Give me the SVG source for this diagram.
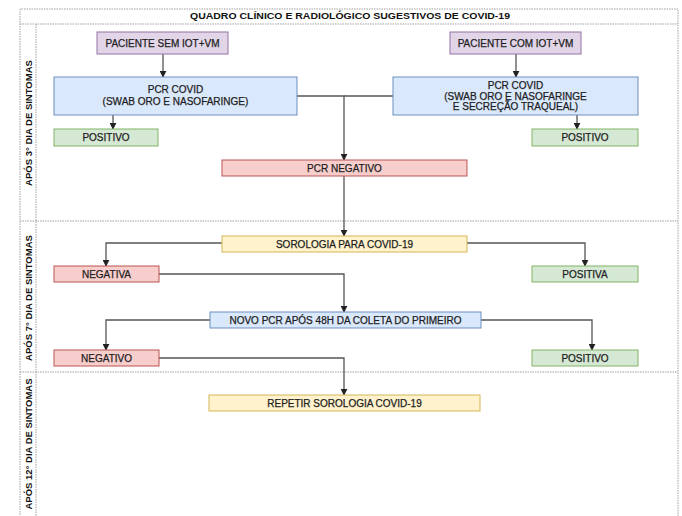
<svg xmlns="http://www.w3.org/2000/svg" width="682" height="516" viewBox="0 0 682 516">
<defs>
<marker id="ah" viewBox="0 0 10 10" refX="9" refY="5" markerWidth="7" markerHeight="7" markerUnits="userSpaceOnUse" orient="auto">
<path d="M0,0 L10,5 L0,10 z" fill="#222"/>
</marker>
<style>
.lane{fill:none;stroke:#a0a0a0;stroke-width:1;stroke-dasharray:1.5,1}
.t{font-family:"Liberation Sans",Arial,sans-serif;font-size:10px;fill:#1e1e1e;stroke:#1e1e1e;stroke-width:0.25;text-anchor:middle}
.hd{font-family:"Liberation Sans",Arial,sans-serif;font-size:9.5px;font-weight:bold;fill:#111;text-anchor:middle}
.pu{fill:#e1d5e7;stroke:#9673a6}
.bl{fill:#dae8fc;stroke:#6c8ebf}
.gr{fill:#d5e8d4;stroke:#82b366}
.rd{fill:#f8cecc;stroke:#b85450}
.ye{fill:#fff2cc;stroke:#d6b656}
.c{fill:none;stroke:#555;stroke-width:1.3;marker-end:url(#ah)}
.cn{fill:none;stroke:#555;stroke-width:1.3}
</style>
</defs>
<rect width="682" height="516" fill="#fff"/>
<g id="lanes">
<path class="lane" d="M20,530 V9 H678 V530"/>
<path class="lane" d="M20,24 H678"/>
<path class="lane" d="M36,24 V530"/>
<path class="lane" d="M20,221 H678"/>
<path class="lane" d="M20,372 H678"/>
<text class="hd" x="350" y="16" dy="0.35em" textLength="320" lengthAdjust="spacingAndGlyphs">QUADRO CLÍNICO E RADIOLÓGICO SUGESTIVOS DE COVID-19</text>
<text class="hd" transform="translate(29,123) rotate(-90)" dy="0.35em">APÓS 3° DIA DE SINTOMAS</text>
<text class="hd" transform="translate(29,298) rotate(-90)" dy="0.35em">APÓS 7° DIA DE SINTOMAS</text>
<text class="hd" transform="translate(29,444) rotate(-90)" dy="0.35em">APÓS 12° DIA DE SINTOMAS</text>
</g>
<g id="connectors">
<path class="c" d="M163,54 V77"/>
<path class="c" d="M516,54 V77"/>
<path class="c" d="M113,115 V129"/>
<path class="c" d="M577,115 V129"/>
<path class="c" d="M297,96 H344 V160"/>
<path class="cn" d="M393,96 H344"/>
<path class="c" d="M344,176 V236"/>
<path class="c" d="M222,243 H106 V266"/>
<path class="c" d="M467,243 H585 V266"/>
<path class="c" d="M159,274 H344 V312"/>
<path class="c" d="M210,320 H106 V350"/>
<path class="c" d="M481,320 H592 V350"/>
<path class="c" d="M159,358 H344 V395"/>
</g>
<g id="paciente-sem">
<rect class="pu" x="97" y="32" width="131" height="22"/>
<text class="t" x="162.5" y="43" dy="0.35em">PACIENTE SEM IOT+VM</text>
</g>
<g id="paciente-com">
<rect class="pu" x="450" y="32" width="131" height="22"/>
<text class="t" x="515.5" y="43" dy="0.35em">PACIENTE COM IOT+VM</text>
</g>
<g id="pcr-covid-1">
<rect class="bl" x="54" y="77" width="243" height="38"/>
<text class="t" x="175.5" y="89.5" dy="0.35em">PCR COVID</text>
<text class="t" x="175.5" y="101.5" dy="0.35em">(SWAB ORO E NASOFARINGE)</text>
</g>
<g id="pcr-covid-2">
<rect class="bl" x="393" y="77" width="245" height="38"/>
<text class="t" x="515.5" y="85.5" dy="0.35em">PCR COVID</text>
<text class="t" x="515.5" y="96" dy="0.35em">(SWAB ORO E NASOFARINGE</text>
<text class="t" x="515.5" y="106.5" dy="0.35em">E SECREÇÃO TRAQUEAL)</text>
</g>
<g id="positivo-1">
<rect class="gr" x="54" y="129" width="104" height="17"/>
<text class="t" x="106" y="137.5" dy="0.35em">POSITIVO</text>
</g>
<g id="positivo-2">
<rect class="gr" x="532" y="129" width="106" height="17"/>
<text class="t" x="585" y="137.5" dy="0.35em">POSITIVO</text>
</g>
<g id="pcr-negativo">
<rect class="rd" x="222" y="160" width="245" height="16"/>
<text class="t" x="344.5" y="168" dy="0.35em">PCR NEGATIVO</text>
</g>
<g id="sorologia">
<rect class="ye" x="222" y="236" width="245" height="16"/>
<text class="t" x="344.5" y="244" dy="0.35em">SOROLOGIA PARA COVID-19</text>
</g>
<g id="negativa">
<rect class="rd" x="54" y="266" width="105" height="16"/>
<text class="t" x="106.5" y="274" dy="0.35em">NEGATIVA</text>
</g>
<g id="positiva">
<rect class="gr" x="532" y="266" width="106" height="16"/>
<text class="t" x="585" y="274" dy="0.35em">POSITIVA</text>
</g>
<g id="novo-pcr">
<rect class="bl" x="210" y="312" width="271" height="16"/>
<text class="t" x="345.5" y="320" dy="0.35em">NOVO PCR APÓS 48H DA COLETA DO PRIMEIRO</text>
</g>
<g id="negativo">
<rect class="rd" x="54" y="350" width="105" height="16"/>
<text class="t" x="106.5" y="358" dy="0.35em">NEGATIVO</text>
</g>
<g id="positivo-3">
<rect class="gr" x="532" y="350" width="106" height="16"/>
<text class="t" x="585" y="358" dy="0.35em">POSITIVO</text>
</g>
<g id="repetir">
<rect class="ye" x="209" y="395" width="271" height="16"/>
<text class="t" x="344.5" y="403" dy="0.35em">REPETIR SOROLOGIA COVID-19</text>
</g>
</svg>
